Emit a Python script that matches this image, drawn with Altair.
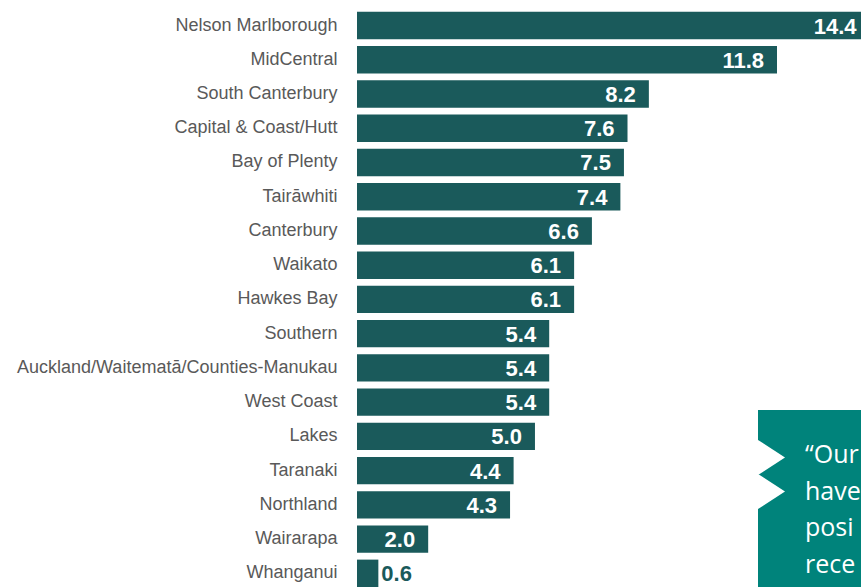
import altair as alt
import pandas as pd

regions = [
    "Nelson Marlborough", "MidCentral", "South Canterbury", "Capital & Coast/Hutt",
    "Bay of Plenty", "Tairāwhiti", "Canterbury", "Waikato", "Hawkes Bay", "Southern",
    "Auckland/Waitematā/Counties-Manukau", "West Coast", "Lakes", "Taranaki",
    "Northland", "Wairarapa", "Whanganui",
]
values = [14.4, 11.8, 8.2, 7.6, 7.5, 7.4, 6.6, 6.1, 6.1, 5.4, 5.4, 5.4, 5.0, 4.4, 4.3, 2.0, 0.6]

callout_lines = ["“Our", "have", "posi", "rece"]

BAR = "#1a5a5b"
CALLOUT = "#00837b"

df = pd.DataFrame({"region": regions, "value": values})

PAD_LEFT = 357
PAD_TOP = 5
W = 861 - PAD_LEFT
H = 587 - PAD_TOP

x = alt.X("value:Q", scale=alt.Scale(domain=[0, 14.16], nice=False, zero=True), axis=None)
y = alt.Y(
    "region:N",
    sort=regions,
    scale=alt.Scale(domain=regions, paddingInner=0.2, paddingOuter=0.1, align=1),
    axis=alt.Axis(
        title=None, ticks=False, domain=False, labelPadding=20,
        labelFont="Liberation Sans", labelFontSize=18, labelColor="#595959",
        labelLimit=400,
    ),
)

bars = alt.Chart(df).mark_bar(color=BAR).encode(x=x, y=y)

inside = alt.Chart(df).transform_filter("datum.value >= 1").mark_text(
    align="right", baseline="middle", dx=-13, dy=1,
    font="Liberation Sans", fontSize=22, fontWeight="bold", color="white",
).encode(x=x, y=y, text=alt.Text("value:Q", format=".1f"))

outside = alt.Chart(df).transform_filter("datum.value < 1").mark_text(
    align="left", baseline="middle", dx=3, dy=1,
    font="Liberation Sans", fontSize=22, fontWeight="bold", color=BAR,
).encode(x=x, y=y, text=alt.Text("value:Q", format=".1f"))

one = pd.DataFrame({"k": [0]})
box = alt.Chart(one).mark_rect(color=CALLOUT).encode(
    x=alt.value(758 - PAD_LEFT), x2=alt.value(W + 20),
    y=alt.value(410 - PAD_TOP), y2=alt.value(H + 20),
)

def notch(cy):
    return alt.Chart(one).mark_point(
        shape="M-1,-1.3L1,0L-1,1.3Z", filled=True, opacity=1, color="white",
        size=729, strokeWidth=0,
    ).encode(x=alt.value(771.5 - PAD_LEFT), y=alt.value(cy - PAD_TOP))

text_df = pd.DataFrame({"t": ["\n".join(callout_lines)]})
callout_text = alt.Chart(text_df).mark_text(
    align="left", baseline="alphabetic", font="Open Sans", fontSize=25,
    lineHeight=36.7, lineBreak="\n", color="white",
).encode(x=alt.value(805 - PAD_LEFT), y=alt.value(463 - PAD_TOP), text="t:N")

chart = alt.layer(
    bars, inside, outside, box, notch(457.5), notch(491.5), callout_text
).properties(
    width=W, height=H,
    autosize=alt.AutoSizeParams(type="none"),
    padding={"left": PAD_LEFT, "top": PAD_TOP, "right": 0, "bottom": 0},
    background="white",
).configure_view(stroke=None)

chart.save("out.html", embed_options={"renderer": "svg", "actions": False})
